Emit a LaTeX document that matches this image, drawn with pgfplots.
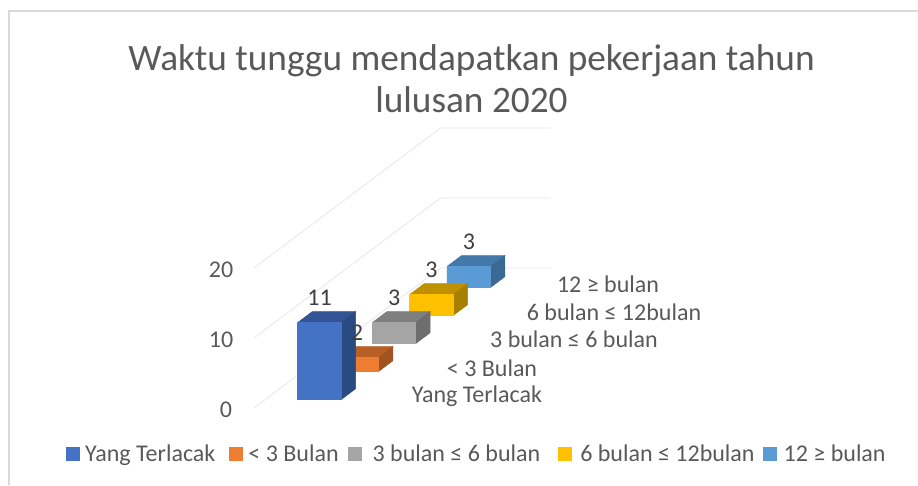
\documentclass[border=0pt]{standalone}
\usepackage{pgfplots}
\pgfplotsset{compat=1.18}
\usepackage{fontspec}
\setmainfont{Carlito}
\definecolor{cA}{HTML}{4472C4}\definecolor{cAt}{HTML}{335593}\definecolor{cAs}{HTML}{2A4A82}
\definecolor{cB}{HTML}{ED7D31}\definecolor{cBt}{HTML}{B85F26}\definecolor{cBs}{HTML}{A05422}
\definecolor{cC}{HTML}{A5A5A5}\definecolor{cCt}{HTML}{7F7F7F}\definecolor{cCs}{HTML}{6E6E6E}
\definecolor{cD}{HTML}{FFC000}\definecolor{cDt}{HTML}{BF9000}\definecolor{cDs}{HTML}{A88000}
\definecolor{cE}{HTML}{5B9BD5}\definecolor{cEt}{HTML}{4478A8}\definecolor{cEs}{HTML}{3A6A94}
\definecolor{gridc}{HTML}{E6E6E6}
\definecolor{framec}{HTML}{D9D9D9}
\definecolor{ttl}{HTML}{595959}
% #1 depth start, #2 depth end, #3 value, #4 colour base name
\newcommand{\cuboid}[4]{%
  \addplot3[fill=#4t,draw=#4t,line width=.5pt,forget plot] coordinates {(0.295,#1,#3)(0.69,#1,#3)(0.69,#2,#3)(0.295,#2,#3)(0.295,#1,#3)};
  \addplot3[fill=#4s,draw=#4s,line width=.5pt,forget plot] coordinates {(0.69,#1,0)(0.69,#2,0)(0.69,#2,#3)(0.69,#1,#3)(0.69,#1,0)};
  \addplot3[fill=#4,draw=#4,line width=.5pt,forget plot] coordinates {(0.295,#1,0)(0.69,#1,0)(0.69,#1,#3)(0.295,#1,#3)(0.295,#1,0)};
}
\begin{document}
\begin{tikzpicture}[x=1pt,y=1pt]
\begin{axis}[name=frame,at={(0,0)},anchor=south west,scale only axis,width=918pt,height=485pt,
  xmin=0,xmax=918,ymin=0,ymax=485,hide axis,clip=false,
  legend style={at={(axis cs:66,31)},anchor=west,draw=none,fill=none,font=\fontsize{24}{26}\selectfont,text=ttl,inner sep=0pt,
    /tikz/every even column/.append style={column sep=-3pt},
    /tikz/every odd column/.append style={column sep=11pt}},
  legend columns=5,legend image code/.code={\fill[#1,draw=none] (0,-7pt) rectangle (14pt,7pt);}]
\addplot[framec,line width=1.8pt,forget plot] coordinates {(9,0)(9,474)(918,474)};
\addlegendimage{fill=cA}\addlegendentry{\hspace*{-8pt}Yang Terlacak\hspace*{15pt}}
\addlegendimage{fill=cB}\addlegendentry{\hspace*{-8pt}< 3 Bulan\hspace*{10pt}}
\addlegendimage{fill=cC}\addlegendentry{\hspace*{-2pt}3 bulan ≤ 6 bulan\hspace*{19pt}}
\addlegendimage{fill=cD}\addlegendentry{\hspace*{-5pt}6 bulan ≤ 12bulan\hspace*{9pt}}
\addlegendimage{fill=cE}\addlegendentry{\hspace*{-6pt}12 ≥ bulan\hspace*{8pt}}
\node[ttl,align=center,font=\fontsize{37.3}{42}\selectfont] at (axis cs:471.5,406) {Waktu tunggu mendapatkan pekerjaan tahun\\lulusan 2020};
\foreach \t/\xx/\yy in {0/226/75,10/221/145,20/221/215}{\edef\n{\noexpand\node[ttl,font=\noexpand\fontsize{24}{26}\noexpand\selectfont] at (axis cs:\xx,\yy) {\t};}\n}
\foreach \t/\xx/\yy in {Yang Terlacak/477/89,< 3 Bulan/492/117,3 bulan ≤ 6 bulan/574/146,6 bulan ≤ 12bulan/614/173,12 ≥ bulan/608/201}{\edef\n{\noexpand\node[ttl,font=\noexpand\fontsize{24}{26}\noexpand\selectfont] at (axis cs:\xx,\yy) {\t};}\n}
\end{axis}
\begin{axis}[at={(254pt,77pt)},anchor=origin,x={(110pt,0pt)},y={(37.3pt,28pt)},z={(0pt,7pt)},
  xmin=0,xmax=1,ymin=0,ymax=5,zmin=0,zmax=20,hide axis,clip=false]
% walls and floor grid
\addplot3[gridc,line width=.8pt] coordinates {(0,0,0)(0,5,0)(1,5,0)};
\addplot3[gridc,line width=.8pt] coordinates {(0,0,10)(0,5,10)(1,5,10)};
\addplot3[gridc,line width=.8pt] coordinates {(0,0,20)(0,5,20)(1,5,20)};
\cuboid{4.3}{4.69}{3}{cE}
\cuboid{3.3}{3.69}{3}{cD}
\cuboid{2.3}{2.69}{3}{cC}
\cuboid{1.3}{1.69}{2}{cB}
\cuboid{0.3}{0.69}{11}{cA}
\foreach \v/\yy in {11/0.5,2/1.5,3/2.5,3/3.5,3/4.5}{\edef\n{\noexpand\node[text=black!75,font=\noexpand\fontsize{24}{26}\noexpand\selectfont] at (axis cs:0.5,\yy,\v) [xshift=-8pt,yshift=19pt] {\v};}\n}
\end{axis}
\pgfresetboundingbox
\useasboundingbox (0,0) rectangle (918pt,485pt);
\end{tikzpicture}
\end{document}
